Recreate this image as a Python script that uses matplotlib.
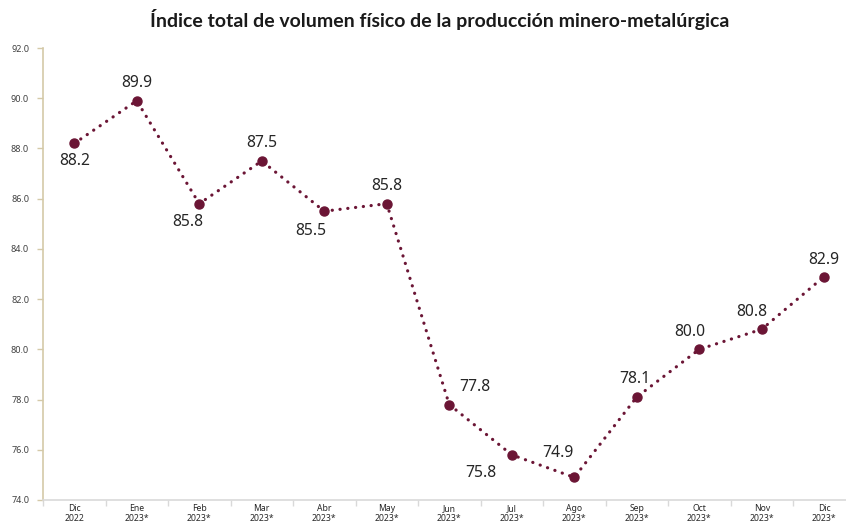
import matplotlib.pyplot as plt
from matplotlib.ticker import FixedLocator

months = ['Dic', 'Ene', 'Feb', 'Mar', 'Abr', 'May', 'Jun', 'Jul', 'Ago', 'Sep', 'Oct', 'Nov', 'Dic']
years = ['2022'] + ['2023*'] * 12
values = [88.2, 89.9, 85.8, 87.5, 85.5, 85.8, 77.8, 75.8, 74.9, 78.1, 80.0, 80.8, 82.9]

# label offsets in pixels (dx, dy)
offsets = [(0, -18), (0, 18), (-12, -18), (0, 18), (-13, -20), (0, 18), (26, 18),
           (-31, -18), (-16, 24), (-2, 18), (-9, 17), (-10, 17), (0, 17)]

plt.rcParams['font.family'] = ['Noto Sans', 'DejaVu Sans']
color = '#6b1535'

fig = plt.figure(figsize=(8.46, 5.23), dpi=100)
ax = fig.add_axes([43 / 846, 23 / 523, 812.5 / 846, 452 / 523])

x = list(range(len(values)))
ax.plot(x, values, linestyle=(0, (0.05, 2.4)), linewidth=2.3, color=color,
        dash_capstyle='round')
ax.plot(x, values, linestyle='none', marker='o', markersize=6.5, color=color)

for xi, v, (dx, dy) in zip(x, values, offsets):
    ax.annotate(f'{v:.1f}', (xi, v), xytext=(dx * 0.72, dy * 0.72), textcoords='offset points',
                ha='center', va='center', fontsize=11.3, color='#262626')

ax.set_xlim(-0.5, len(values) - 0.5)
ax.set_ylim(74, 92)
ax.set_yticks([74 + 2 * i for i in range(10)])
ax.set_yticklabels([f'{74 + 2 * i:.1f}' for i in range(10)], fontsize=6.5, color='#404040')
ax.set_xticks(x)
ax.set_xticklabels([f'{m}\n{y}' for m, y in zip(months, years)], fontsize=6.2, color='#262626',
                   linespacing=1.05)
ax.xaxis.set_minor_locator(FixedLocator([i - 0.5 for i in range(len(values) + 1)]))
ax.tick_params(axis='x', which='major', length=0, pad=3)
ax.tick_params(axis='x', which='minor', length=4, color='#d9d9d9', width=1)
ax.tick_params(axis='y', length=4, color='#d4c9a8', width=1, pad=6)

for s in ['top', 'right']:
    ax.spines[s].set_visible(False)
ax.spines['left'].set_color('#d4c9a8')
ax.spines['left'].set_linewidth(1.2)
ax.spines['bottom'].set_color('#d9d9d9')
ax.spines['bottom'].set_linewidth(1.2)

fig.text(440 / 846, 1 - 19 / 523, 'Índice total de volumen físico de la producción minero-metalúrgica',
         ha='center', va='center', fontsize=14, fontweight='bold', color='#1a1a1a',
         family=['Lato', 'Roboto', 'DejaVu Sans'])

fig.savefig('out.png', dpi=100)
